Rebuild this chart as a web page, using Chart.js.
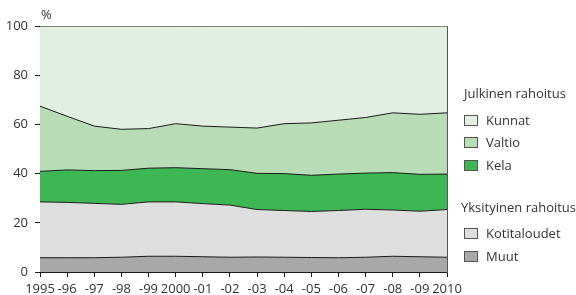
<!DOCTYPE html>
<html>
<head>
<meta charset="utf-8">
<script src="https://cdn.jsdelivr.net/npm/chart.js@4"></script>
<style>
  body { margin: 0; background: #fff; }
  #wrap { position: relative; width: 576px; height: 295px; font-family: "Open Sans", sans-serif; color: #333; }
  canvas { position: absolute; left: 0; top: 0; }
  .lbl { position: absolute; font-size: 13px; line-height: 16px; white-space: nowrap; }
  .box { position: absolute; width: 12px; height: 9px; border: 1px solid #555; }
</style>
</head>
<body>
<div id="wrap">
  <canvas id="chart" width="576" height="295"></canvas>
  <div class="lbl" style="left:41px;top:6px;">%</div>
  <div id="legend"></div>
</div>
<script>
const years = ['1995', '-96', '-97', '-98', '-99', '2000', '-01', '-02', '-03', '-04', '-05', '-06', '-07', '-08', '-09', '2010'];

// shares of funding, %, bottom layer first
const muut =         [5.8, 5.8, 5.8, 6.0, 6.4, 6.4, 6.2, 6.0, 6.1, 6.0, 5.9, 5.8, 6.0, 6.4, 6.2, 6.0];
const kotitaloudet = [22.7, 22.5, 22.1, 21.5, 22.1, 22.1, 21.6, 21.2, 19.3, 19.0, 18.7, 19.2, 19.5, 18.8, 18.5, 19.4];
const kela =         [12.4, 13.2, 13.3, 13.8, 13.7, 13.9, 14.2, 14.4, 14.7, 15.0, 14.7, 14.8, 14.7, 15.2, 15.0, 14.4];
const valtio =       [26.5, 21.8, 18.1, 16.7, 16.1, 17.9, 17.3, 17.3, 18.4, 20.3, 21.3, 21.9, 22.6, 24.3, 24.4, 24.9];
const kunnat =       [32.6, 36.7, 40.7, 42.0, 41.7, 39.7, 40.7, 41.1, 41.5, 39.7, 39.4, 38.3, 37.2, 35.3, 35.9, 35.3];

const yTicks = [0, 20, 40, 60, 80, 100];

const colors = {
    kunnat: '#e3eee2',
    valtio: '#b8ddb6',
    kela: '#3cb754',
    kotitaloudet: '#dedede',
    muut: '#a8a8a8'
};

function area(label, values, color, fill) {
    return {
        label: label,
        data: values,
        backgroundColor: color,
        borderColor: '#1a1a1a',
        borderWidth: 1,
        pointRadius: 0,
        tension: 0,
        fill: fill
    };
}

const data = {
    labels: years,
    datasets: [
        area('Muut', muut, colors.muut, 'origin'),
        area('Kotitaloudet', kotitaloudet, colors.kotitaloudet, '-1'),
        area('Kela', kela, colors.kela, '-1'),
        area('Valtio', valtio, colors.valtio, '-1'),
        area('Kunnat', kunnat, colors.kunnat, '-1')
    ]
};

const tickFont = { family: 'Open Sans', size: 13 };

const config = {
    type: 'line',
    data: data,
    options: {
        responsive: false,
        animation: false,
        layout: { padding: { top: 26, right: 129, left: 0, bottom: 0 } },
        plugins: { legend: { display: false }, tooltip: { enabled: false } },
        scales: {
            x: {
                offset: false,
                grid: { display: true, drawOnChartArea: false, color: '#1a1a1a', tickLength: 5 },
                border: { color: '#1a1a1a', width: 1 },
                ticks: { color: '#333', font: tickFont, padding: 4, autoSkip: false, maxRotation: 0 },
                afterFit: function(s) { s.height = 23; }
            },
            y: {
                stacked: true,
                min: 0, max: 100,
                afterBuildTicks: function(s) { s.ticks = yTicks.map(v => ({ value: v })); },
                grid: { display: true, drawOnChartArea: false, color: '#1a1a1a', tickLength: 5 },
                border: { color: '#1a1a1a', width: 1 },
                ticks: { color: '#333', font: tickFont, padding: 7 },
                afterFit: function(s) { s.width = 40; }
            },
            yr: {
                position: 'right',
                min: 0, max: 100,
                grid: { display: false },
                border: { color: '#555', width: 1 },
                ticks: { display: false },
                afterFit: function(s) { s.width = 0; }
            }
        }
    }
};

// legend with the two group headings
const legendRows = [
    { head: 'Julkinen rahoitus', y: 85 },
    { label: 'Kunnat', color: colors.kunnat, y: 112 },
    { label: 'Valtio', color: colors.valtio, y: 134 },
    { label: 'Kela', color: colors.kela, y: 157 },
    { head: 'Yksityinen rahoitus', y: 199 },
    { label: 'Kotitaloudet', color: colors.kotitaloudet, y: 225 },
    { label: 'Muut', color: colors.muut, y: 248 }
];

function buildLegend() {
    const el = document.getElementById('legend');
    legendRows.forEach(function(r) {
        if (r.head) {
            const d = document.createElement('div');
            d.className = 'lbl';
            d.style.left = (r.head[0] === 'J' ? 464 : 461) + 'px';
            d.style.top = r.y + 'px';
            d.textContent = r.head;
            el.appendChild(d);
        } else {
            const b = document.createElement('div');
            b.className = 'box';
            b.style.left = '464px';
            b.style.top = (r.y + 3) + 'px';
            b.style.background = r.color;
            el.appendChild(b);
            const t = document.createElement('div');
            t.className = 'lbl';
            t.style.left = '486px';
            t.style.top = r.y + 'px';
            t.textContent = r.label;
            el.appendChild(t);
        }
    });
}

window.onload = function() {
    buildLegend();
    const ctx = document.getElementById('chart').getContext('2d');
    new Chart(ctx, config);
};
</script>
</body>
</html>
